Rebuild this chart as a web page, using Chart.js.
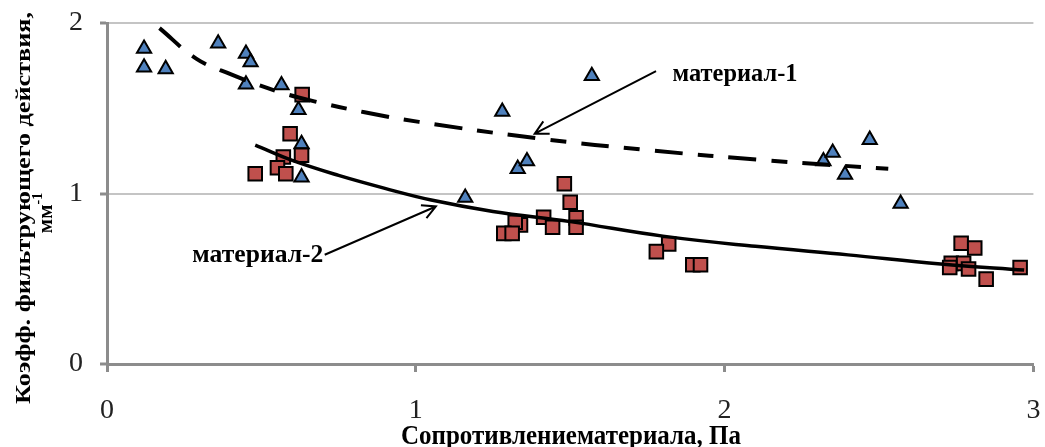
<!DOCTYPE html>
<html lang="ru">
<head>
<meta charset="utf-8">
<title>Коэффициент фильтрующего действия</title>
<script src="https://cdn.jsdelivr.net/npm/chart.js@4.4.1/dist/chart.umd.min.js"></script>
<style>
  html, body { margin: 0; padding: 0; background: #ffffff; }
  #wrap { width: 1045px; height: 447px; }
</style>
</head>
<body>
<div id="wrap"><canvas id="chart" width="1045" height="447"></canvas></div>
<script>
// ---- Measurements: material 1 (triangles) ----
const mat1X = [0.12, 0.12, 0.19, 0.36, 0.45, 0.465, 0.45, 0.565, 0.62, 0.63, 0.63,
               1.16, 1.28, 1.33, 1.36, 1.57, 2.32, 2.35, 2.39, 2.47, 2.57];
const mat1Y = [1.85, 1.74, 1.73, 1.88, 1.82, 1.77, 1.64, 1.635, 1.49, 1.29, 1.095,
               0.975, 1.48, 1.145, 1.19, 1.69, 1.19, 1.24, 1.11, 1.315, 0.94];

// ---- Measurements: material 2 (squares) ----
const mat2X = [0.632, 0.593, 0.571, 0.63, 0.552, 0.579, 0.48,
               1.481, 1.50, 1.414, 1.519, 1.519, 1.443, 1.339, 1.322, 1.285, 1.312,
               1.819, 1.779, 1.897, 1.922,
               2.766, 2.81, 2.734, 2.774, 2.79, 2.729, 2.847, 2.957];
const mat2Y = [1.58, 1.35, 1.214, 1.224, 1.151, 1.116, 1.116,
               1.057, 0.949, 0.861, 0.857, 0.802, 0.802, 0.816, 0.831, 0.766, 0.766,
               0.704, 0.659, 0.582, 0.582,
               0.708, 0.68, 0.59, 0.59, 0.557, 0.566, 0.498, 0.566];

// ---- Trend curves ----
const trend1X = [0.17, 0.29, 0.40, 0.55, 0.68, 0.83, 1.01, 1.40, 1.76, 2.14, 2.53];
const trend1Y = [1.97, 1.79, 1.70, 1.60, 1.537, 1.478, 1.42, 1.322, 1.253, 1.194, 1.145];
const trend2X = [0.48, 0.60, 0.75, 0.90, 1.05, 1.25, 1.50, 1.80, 2.10, 2.40, 2.70, 2.97];
const trend2Y = [1.284, 1.194, 1.106, 1.03, 0.962, 0.895, 0.835, 0.75, 0.69, 0.64, 0.587, 0.551];

// ---- Axis ticks ----
const xTicks = [0, 1, 2, 3];
const yTicks = [0, 1, 2];

const toPoints = (xs, ys) => xs.map((x, i) => ({ x: x, y: ys[i] }));

const SERIF = '"Liberation Serif", "Times New Roman", serif';
const AXIS_GRAY = '#8c8c8c';

// Text drawn to a set length, optionally rotated / stretched across
function drawFitted(ctx, text, x, y, targetW, font, angle, vScale) {
  ctx.save();
  ctx.font = font;
  const w = ctx.measureText(text).width;
  ctx.translate(x, y);
  ctx.rotate(angle);
  ctx.scale(targetW / w, vScale);
  ctx.textAlign = 'center';
  ctx.textBaseline = 'middle';
  ctx.fillText(text, 0, 0);
  ctx.restore();
}

function drawArrow(ctx, x0, y0, x1, y1) {
  const a = Math.atan2(y1 - y0, x1 - x0);
  const head = 15, spread = Math.PI / 6.5;
  ctx.beginPath();
  ctx.moveTo(x0, y0);
  ctx.lineTo(x1, y1);
  ctx.moveTo(x1 - head * Math.cos(a - spread), y1 - head * Math.sin(a - spread));
  ctx.lineTo(x1, y1);
  ctx.lineTo(x1 - head * Math.cos(a + spread), y1 - head * Math.sin(a + spread));
  ctx.stroke();
}

// Axis titles and series callouts
const labelsPlugin = {
  id: 'labels',
  afterDraw(chart) {
    const ctx = chart.ctx;
    const xs = chart.scales.x, ys = chart.scales.y;
    const px = v => xs.getPixelForValue(v);
    const py = v => ys.getPixelForValue(v);
    ctx.save();
    ctx.fillStyle = '#000';
    ctx.strokeStyle = '#000';

    // y title, two lines
    drawFitted(ctx, 'Коэфф. фильтрующего действия,', 24, 208, 392,
               'bold 22px ' + SERIF, -Math.PI / 2, 1);
    ctx.save();
    ctx.translate(45, 213);
    ctx.rotate(-Math.PI / 2);
    ctx.font = 'bold 21px ' + SERIF;
    const wMain = ctx.measureText('мм').width;
    ctx.font = 'bold 14px ' + SERIF;
    const wSup = ctx.measureText('-1').width;
    const total = wMain + wSup;
    ctx.textBaseline = 'alphabetic';
    ctx.textAlign = 'left';
    ctx.font = 'bold 21px ' + SERIF;
    ctx.fillText('мм', -total / 2, 7);
    ctx.font = 'bold 14px ' + SERIF;
    ctx.fillText('-1', -total / 2 + wMain, -3);
    ctx.restore();

    // x title
    drawFitted(ctx, 'Сопротивлениематериала, Па', 571, 437, 340,
               'bold 22px ' + SERIF, 0, 1.2);

    // callouts
    ctx.lineWidth = 2;
    drawFitted(ctx, 'материал-1', px(1.833) + 62, py(1.694), 125, 'bold 22px ' + SERIF, 0, 1.1);
    drawArrow(ctx, px(1.778), py(1.718), px(1.385), py(1.351));
    drawFitted(ctx, 'материал-2', px(0.699) - 65, py(0.635), 131, 'bold 22px ' + SERIF, 0, 1.1);
    drawArrow(ctx, px(0.705), py(0.641), px(1.065), py(0.924));
    ctx.restore();
  }
};

new Chart(document.getElementById('chart'), {
  type: 'scatter',
  data: {
    datasets: [
      {
        label: 'тренд материал-2',
        data: toPoints(trend2X, trend2Y),
        showLine: true,
        borderColor: '#000',
        borderWidth: 3.5,
        pointRadius: 0,
        tension: 0.4,
        fill: false,
        order: 0
      },
      {
        label: 'тренд материал-1',
        data: toPoints(trend1X, trend1Y),
        showLine: true,
        borderColor: '#000',
        borderWidth: 4,
        borderDash: [28, 15, 16, 15],
        pointRadius: 0,
        tension: 0.4,
        fill: false,
        order: 1
      },
      {
        label: 'материал-2',
        data: toPoints(mat2X, mat2Y),
        pointStyle: 'rect',
        pointRadius: 9.6,
        pointBackgroundColor: '#C0504D',
        pointBorderColor: '#000',
        pointBorderWidth: 2,
        order: 2
      },
      {
        label: 'материал-1',
        data: toPoints(mat1X, mat1Y),
        pointStyle: 'triangle',
        pointRadius: 8.2,
        pointBackgroundColor: '#4F81BD',
        pointBorderColor: '#000',
        pointBorderWidth: 2,
        order: 3
      }
    ]
  },
  options: {
    responsive: false,
    animation: false,
    events: [],
    layout: { padding: { top: 23, right: 8, left: 0, bottom: 0 } },
    plugins: {
      legend: { display: false },
      tooltip: { enabled: false }
    },
    scales: {
      x: {
        type: 'linear',
        min: xTicks[0],
        max: xTicks[xTicks.length - 1],
        afterBuildTicks(s) { s.ticks = xTicks.map(v => ({ value: v })); },
        afterFit(s) { s.height = 83; s.paddingLeft = 0; s.paddingRight = 0; },
        ticks: {
          font: { family: SERIF, size: 28 },
          color: '#222',
          padding: 22,
          maxRotation: 0
        },
        grid: {
          drawOnChartArea: false,
          drawTicks: true,
          tickLength: 8,
          tickColor: AXIS_GRAY,
          tickWidth: 3
        },
        border: { color: AXIS_GRAY, width: 3 }
      },
      y: {
        type: 'linear',
        min: yTicks[0],
        max: yTicks[yTicks.length - 1],
        afterBuildTicks(s) { s.ticks = yTicks.map(v => ({ value: v })); },
        afterFit(s) { s.width = 107; s.paddingTop = 0; s.paddingBottom = 0; },
        ticks: {
          font: { family: SERIF, size: 28 },
          color: '#222',
          padding: 17
        },
        grid: {
          color: c => (c.tick && c.tick.value === 0) ? 'rgba(0,0,0,0)' : '#c4c4c4',
          lineWidth: 2,
          drawTicks: true,
          tickLength: 7,
          tickColor: AXIS_GRAY,
          tickWidth: 3
        },
        border: { color: AXIS_GRAY, width: 3 }
      }
    }
  },
  plugins: [labelsPlugin]
});
</script>
</body>
</html>
